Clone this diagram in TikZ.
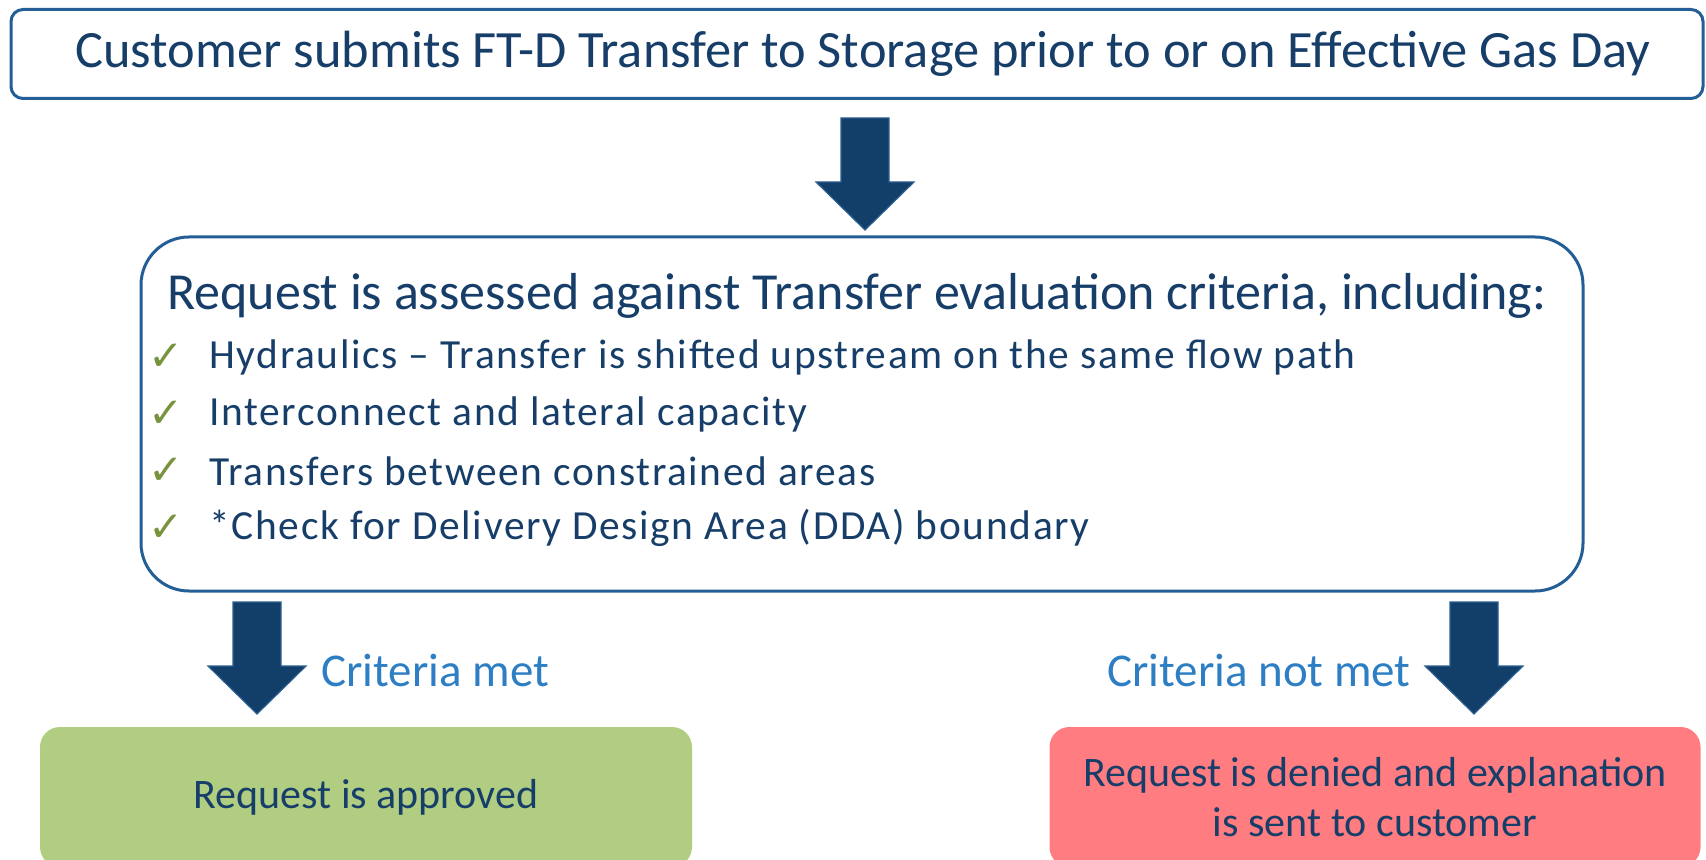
\documentclass[tikz,border=0pt]{standalone}
\usepackage{fontspec}
\setmainfont{Carlito}
\newfontfamily\bulletfont[LetterSpace=4]{Carlito}
\newfontfamily\symfont{DejaVu Sans}
\usepackage{xcolor}
\usepackage{tikz}
\usetikzlibrary{calc}

\definecolor{textnavy}{RGB}{23,62,105}
\definecolor{arrownavy}{RGB}{17,63,105}
\definecolor{arrowedge}{RGB}{45,95,145}
\definecolor{boxblue}{RGB}{35,95,150}
\definecolor{critblue}{RGB}{46,126,196}
\definecolor{okgreen}{RGB}{177,205,130}
\definecolor{nored}{RGB}{255,124,128}
\definecolor{tickgreen}{RGB}{119,147,60}

\tikzset{
  outlinebox/.style={draw=boxblue, line width=1.5pt, fill=white, text=textnavy},
  resultbox/.style={rounded corners=10pt, text=textnavy, align=center, font=\fontsize{21}{25}\selectfont},
  blockarrow/.style={fill=arrownavy, draw=arrowedge, line width=0.6pt, line join=miter},
  critlabel/.style={text=critblue, inner sep=0pt, font=\fontsize{23.5}{28}\selectfont},
  checkitem/.style={anchor=west, inner sep=0pt, text=textnavy, font=\bulletfont\fontsize{20.7}{24}\selectfont},
  tick/.style={text=tickgreen, font=\symfont\fontsize{21}{24}\selectfont}
}

% block arrow pointing down, #1 = middle of its top edge
\newcommand{\downblock}[1]{%
  \filldraw[blockarrow] (#1) ++(-24,0) -- ++(48,0) -- ++(0,64) -- ++(25,0)
    -- ++(-49,48) -- ++(-49,-48) -- ++(25,0) -- cycle;}

\begin{document}
\begin{tikzpicture}[x=0.5pt, y=-0.5pt]
    \useasboundingbox (0,0) rectangle (1706,860);
    \clip (0,0) rectangle (1706,860);

    % 1. top box
    \node[outlinebox, rounded corners=6pt, minimum width=846pt, minimum height=44.5pt] (submit) at (857,54) {};
    \node[text=textnavy, font=\fontsize{26.2}{31}\selectfont] (submittext) at (863,54)
        {Customer submits FT-D Transfer to Storage prior to or on Effective Gas Day};

    % 2. assessment box with criteria
    \node[outlinebox, rounded corners=24pt, minimum width=721pt, minimum height=177pt] (assess) at (862,414) {};
    \node[text=textnavy, font=\fontsize{26}{31}\selectfont] (assesstitle) at (857,296)
        {Request is assessed against Transfer evaluation criteria, including:};
    \foreach \i/\y/\txt in {1/357/{Hydraulics – Transfer is shifted upstream on the same flow path},
                            2/414/{Interconnect and lateral capacity},
                            3/471/{Transfers between constrained areas},
                            4/528/{*Check for Delivery Design Area (DDA) boundary}} {
        \node[tick] (tick\i) at (166,\y) {✓};
        \node[checkitem] (item\i) at (209,\y) {\txt};
    }

    % 3. arrows
    \coordinate (a1) at (865,118);
    \coordinate (a2) at (257,602);
    \coordinate (a3) at (1474,602);
    \downblock{a1}
    \downblock{a2}
    \downblock{a3}
    \node[critlabel, anchor=west] (met) at (321,671) {Criteria met};
    \node[critlabel, anchor=east] (notmet) at (1411,671) {Criteria not met};

    % 4. outcomes
    \node[resultbox, fill=okgreen, minimum width=326pt, minimum height=70pt] (approved) at (366,797)
        {Request is approved};
    \node[resultbox, fill=nored, minimum width=325.5pt, minimum height=70pt] (denied) at (1375,797)
        {Request is denied and explanation\\is sent to customer};
\end{tikzpicture}
\end{document}
